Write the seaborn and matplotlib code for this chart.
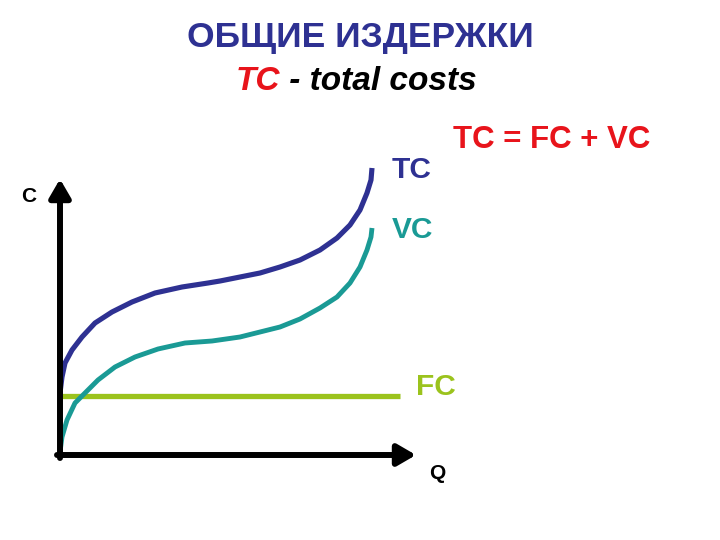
import numpy as np
import pandas as pd
import matplotlib
matplotlib.use('Agg')
import matplotlib.pyplot as plt
import seaborn as sns

# curve points (Q, C)
tc_q = [0, 0.2, 0.5, 1.2, 2.2, 3.5, 5.2, 7.2, 9.5, 12.2, 14.8, 16.0, 18.0, 20.0,
        22.0, 24.0, 26.0, 27.7, 29.0, 30.0, 30.7, 31.1, 31.2]
tc_c = [6.2, 7.8, 9.2, 10.5, 11.8, 13.2, 14.3, 15.3, 16.2, 16.8, 17.2, 17.4, 17.8, 18.2,
        18.8, 19.5, 20.5, 21.7, 23.0, 24.5, 26.2, 27.5, 28.7]
vc_q = [0, 0.2, 0.7, 1.5, 2.5, 3.8, 5.5, 7.5, 9.8, 12.5, 15.2, 18.0, 20.0,
        22.0, 24.0, 26.0, 27.7, 29.0, 30.0, 30.7, 31.1, 31.2]
vc_c = [0.3, 1.8, 3.5, 5.2, 6.2, 7.5, 8.8, 9.8, 10.6, 11.2, 11.4, 11.8, 12.3,
        12.8, 13.6, 14.7, 15.8, 17.2, 18.8, 20.5, 21.8, 22.7]
fc_q = [0, 34]
fc_c = [5.9, 5.9]

navy = '#2E3192'
teal = '#1A9A95'
green = '#9BC31D'
red = '#E8141B'

sns.set_theme(style='white')
plt.rcParams['font.family'] = ['Liberation Sans', 'DejaVu Sans']

fig = plt.figure(figsize=(7.2, 5.4), dpi=100)
ax = fig.add_axes([60 / 720, 85 / 540, 0.5, 300 / 540])

tc = pd.DataFrame({'Q': tc_q, 'C': tc_c})
vc = pd.DataFrame({'Q': vc_q, 'C': vc_c})
fc = pd.DataFrame({'Q': fc_q, 'C': fc_c})

sns.lineplot(data=fc, x='Q', y='C', ax=ax, color=green, lw=3.8, estimator=None)
sns.lineplot(data=vc, x='Q', y='C', ax=ax, color=teal, lw=3.5, estimator=None)
sns.lineplot(data=tc, x='Q', y='C', ax=ax, color=navy, lw=3.7, estimator=None)
for ln in ax.lines:
    ln.set_clip_on(False)
    ln.set_solid_capstyle('butt')

ax.set_xlim(0, 36)
ax.set_ylim(0, 30)
ax.axis('off')

# axes arrows
arrow = dict(arrowstyle='-|>,head_length=0.55,head_width=0.32', color='black',
             lw=4.3, mutation_scale=20, shrinkA=0, shrinkB=0)
ax.annotate('', xy=(0, 27.6), xytext=(0, -0.3), arrowprops=arrow, annotation_clip=False)
ax.annotate('', xy=(35.6, 0), xytext=(-0.3, 0), arrowprops=arrow, annotation_clip=False)

def put(px, py, s, **kw):
    fig.text(px / 720, 1 - py / 540, s, va='baseline', **kw)

put(360, 47, 'ОБЩИЕ ИЗДЕРЖКИ', ha='center', fontsize=25.5,
    fontweight='bold', color=navy)
put(280, 90, 'TC', ha='right', fontsize=24, fontweight='bold',
    fontstyle='italic', color=red)
put(280, 90, ' - total costs', ha='left', fontsize=24, fontweight='bold',
    fontstyle='italic', color='black')

put(552, 148, 'TC = FC + VC', ha='center', fontsize=22.5,
    fontweight='bold', color=red)
put(412, 178, 'TC', ha='center', fontsize=21.5, fontweight='bold', color=navy)
put(412, 238, 'VC', ha='center', fontsize=21.5, fontweight='bold', color=teal)
put(436, 395, 'FC', ha='center', fontsize=21.5, fontweight='bold', color=green)
put(437, 479, 'Q', ha='center', fontsize=15, fontweight='bold', color='black')
put(29, 202, 'C', ha='center', fontsize=15, fontweight='bold', color='black')

fig.savefig('out.png', dpi=100, facecolor='white')
